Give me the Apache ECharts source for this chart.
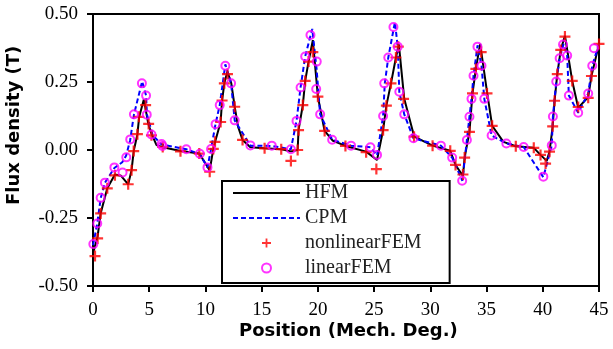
<!DOCTYPE html>
<html>
<head>
<meta charset="utf-8">
<script src="https://cdn.jsdelivr.net/npm/echarts@6/dist/echarts.min.js"></script>
<style>
html,body{margin:0;padding:0;background:#fff;}
#chart{width:613px;height:349px;}
</style>
</head>
<body>
<div id="chart"></div>
<script>
// ---- Data ----
const seriesNames = ['HFM', 'CPM', 'nonlinearFEM', 'linearFEM'];

const hfmX = [0, 0.4, 0.68, 1.27, 1.95, 2.5, 3.13, 3.43, 3.62, 3.95, 4.1, 4.52, 4.91, 5.2, 5.65, 6.2, 7.8, 9.45, 10.38, 10.7, 10.88, 11.35, 11.48, 11.68, 11.95, 12.3, 12.6, 12.9, 13.3, 14.0, 15.26, 16.74, 17.6, 18.2, 18.28, 18.66, 18.87, 19.17, 19.55, 20.0, 20.6, 21.3, 22.45, 24.29, 25.26, 25.8, 26.09, 26.5, 26.94, 27.2, 27.68, 28.57, 30.2, 31.77, 32.24, 32.9, 33.05, 33.48, 33.75, 34.05, 34.43, 35.06, 35.5, 36.5, 37.6, 39.2, 39.8, 40.35, 40.6, 40.88, 41.05, 41.29, 41.6, 41.97, 42.62, 43.15, 44.04, 44.33, 45];
const hfmY = [-0.38, -0.32, -0.233, -0.141, -0.09, -0.095, -0.126, -0.074, -0.004, 0.058, 0.12, 0.186, 0.098, 0.06, 0.018, 0.01, -0.004, -0.013, -0.075, 0.004, 0.033, 0.103, 0.182, 0.245, 0.288, 0.245, 0.159, 0.086, 0.037, 0.01, 0.006, 0.003, -0.005, 0.0, 0.073, 0.165, 0.254, 0.325, 0.404, 0.196, 0.07, 0.035, 0.015, -0.006, -0.037, 0.073, 0.163, 0.245, 0.34, 0.388, 0.188, 0.049, 0.016, -0.003, -0.055, -0.095, -0.028, 0.067, 0.208, 0.298, 0.39, 0.208, 0.089, 0.03, 0.014, 0.008, -0.018, -0.04, -0.006, 0.087, 0.181, 0.279, 0.368, 0.42, 0.254, 0.155, 0.195, 0.272, 0.39];

const cpmX = [0, 0.38, 0.68, 1.06, 1.9, 2.6, 2.95, 3.3, 3.64, 4.37, 4.72, 4.8, 5.3, 6.1, 8.3, 9.5, 10.18, 10.5, 10.9, 11.27, 11.77, 12.28, 12.6, 14.0, 15.9, 17.6, 18.1, 18.46, 18.87, 19.5, 19.88, 20.2, 21.27, 22.95, 24.67, 25.26, 25.8, 25.95, 26.26, 26.85, 27.1, 27.24, 27.68, 28.5, 30.94, 31.94, 32.85, 33.25, 33.48, 33.66, 33.84, 34.2, 34.55, 34.8, 35.45, 36.76, 38.3, 40.05, 40.8, 40.9, 41.2, 41.5, 41.85, 42.17, 42.32, 43.15, 44.04, 44.4, 45];
const cpmY = [-0.35, -0.27, -0.178, -0.12, -0.066, -0.045, -0.02, 0.035, 0.13, 0.252, 0.2, 0.13, 0.055, 0.02, 0.003, -0.015, -0.064, 0.004, 0.096, 0.165, 0.315, 0.245, 0.109, 0.016, 0.015, 0.003, 0.107, 0.23, 0.344, 0.445, 0.3, 0.131, 0.038, 0.016, 0.01, -0.02, 0.125, 0.245, 0.34, 0.47, 0.38, 0.214, 0.131, 0.043, 0.016, -0.028, -0.113, 0.037, 0.122, 0.188, 0.273, 0.385, 0.31, 0.188, 0.053, 0.024, 0.011, -0.1, 0.017, 0.123, 0.252, 0.337, 0.39, 0.347, 0.2, 0.137, 0.208, 0.31, 0.39];

const nonlinX = [0.18, 0.41, 0.68, 1.27, 1.95, 3.13, 3.43, 3.62, 3.95, 4.08, 4.68, 4.95, 5.2, 6.2, 7.78, 9.45, 10.38, 10.7, 10.85, 11.35, 11.48, 11.68, 11.96, 12.6, 13.3, 15.26, 16.74, 17.6, 18.2, 18.28, 18.66, 18.87, 19.17, 19.55, 20.0, 20.6, 22.45, 24.29, 25.2, 25.8, 26.09, 26.5, 26.94, 27.15, 27.62, 28.55, 30.2, 31.77, 32.24, 32.9, 33.05, 33.48, 33.75, 34.05, 34.52, 35.04, 35.5, 37.6, 39.2, 39.8, 40.25, 40.6, 40.88, 41.05, 41.29, 41.6, 41.97, 42.62, 43.15, 44.04, 44.33, 45.0];
const nonlinY = [-0.39, -0.325, -0.233, -0.141, -0.093, -0.126, -0.074, -0.004, 0.058, 0.122, 0.165, 0.096, 0.054, 0.011, -0.005, -0.013, -0.08, 0.004, 0.03, 0.103, 0.182, 0.245, 0.279, 0.159, 0.037, 0.006, 0.003, -0.04, 0.0, 0.073, 0.165, 0.254, 0.325, 0.36, 0.196, 0.07, 0.015, -0.008, -0.07, 0.073, 0.163, 0.245, 0.34, 0.38, 0.188, 0.049, 0.016, -0.003, -0.055, -0.09, -0.028, 0.067, 0.208, 0.298, 0.36, 0.208, 0.089, 0.014, 0.008, -0.018, -0.05, -0.006, 0.087, 0.181, 0.279, 0.368, 0.417, 0.254, 0.158, 0.192, 0.272, 0.39];

const linX = [0.03, 0.38, 0.68, 1.06, 1.9, 2.63, 2.96, 3.31, 3.64, 4.35, 4.72, 4.78, 5.2, 6.1, 6.18, 8.3, 9.5, 10.18, 10.5, 10.9, 11.27, 11.77, 12.28, 12.6, 14.0, 15.9, 17.6, 18.1, 18.46, 18.87, 19.34, 19.9, 19.85, 20.2, 21.27, 22.95, 24.67, 25.26, 25.8, 25.9, 26.26, 26.72, 27.1, 27.24, 27.68, 28.5, 30.94, 31.94, 32.83, 33.25, 33.48, 33.66, 33.84, 34.19, 34.55, 34.8, 35.45, 36.76, 38.3, 40.05, 40.8, 40.9, 41.2, 41.5, 41.8, 42.17, 42.32, 43.15, 44.04, 44.4, 44.55];
const linY = [-0.346, -0.27, -0.176, -0.12, -0.064, -0.083, -0.027, 0.039, 0.131, 0.245, 0.2, 0.13, 0.057, 0.022, 0.015, 0.003, -0.014, -0.064, 0.004, 0.095, 0.165, 0.31, 0.245, 0.109, 0.017, 0.016, 0.003, 0.107, 0.23, 0.344, 0.423, 0.325, 0.224, 0.131, 0.038, 0.016, 0.01, -0.018, 0.125, 0.245, 0.34, 0.452, 0.38, 0.214, 0.131, 0.043, 0.016, -0.028, -0.113, 0.037, 0.122, 0.188, 0.273, 0.38, 0.31, 0.188, 0.053, 0.024, 0.011, -0.098, 0.017, 0.123, 0.252, 0.337, 0.388, 0.347, 0.2, 0.137, 0.208, 0.31, 0.374];

const xTickValues = [0, 5, 10, 15, 20, 25, 30, 35, 40, 45];
const yTickLabels = ['-0.50', '-0.25', '0.00', '0.25', '0.50'];
const xTitle = 'Position (Mech. Deg.)';
const yTitle = 'Flux density (T)';

// ---- Build ----
function zip(xs, ys) { return xs.map((x, i) => [x, ys[i]]); }
const plusPath = 'path://M4,0L6,0L6,4L10,4L10,6L6,6L6,10L4,10L4,6L0,6L0,4L4,4Z';
const tickFont = 'Liberation Serif';

const chart = echarts.init(document.getElementById('chart'), null, {renderer: 'canvas'});
chart.setOption({
  animation: false,
  backgroundColor: '#fff',
  grid: {left: 93, right: 14, top: 14, bottom: 63, show: true, borderColor: '#000', borderWidth: 2, backgroundColor: 'transparent'},
  xAxis: {
    type: 'value', min: 0, max: 45, interval: 5,
    axisLine: {show: true, onZero: false, lineStyle: {color: '#000', width: 2}},
    axisTick: {show: true, inside: false, length: 6, lineStyle: {color: '#000', width: 2}},
    axisLabel: {color: '#000', fontFamily: tickFont, fontSize: 19, margin: 15,
      formatter: v => (xTickValues.indexOf(v) >= 0 ? String(v) : '')},
    splitLine: {show: false}
  },
  yAxis: {
    type: 'value', min: -0.5, max: 0.5, interval: 0.25,
    axisLine: {show: true, onZero: false, lineStyle: {color: '#000', width: 2}},
    axisTick: {show: true, inside: false, length: 6, lineStyle: {color: '#000', width: 2}},
    axisLabel: {color: '#000', fontFamily: tickFont, fontSize: 19, margin: 15,
      formatter: v => yTickLabels[Math.round((v + 0.5) / 0.25)]},
    splitLine: {show: false}
  },
  legend: {
    data: [
      {name: seriesNames[0], icon: 'path://M0,4L67,4L67,6L0,6Z', itemStyle: {color: '#000'}},
      {name: seriesNames[1], icon: 'path://M0,4L5,4L5,6L0,6Z M8,4L13,4L13,6L8,6Z M16,4L21,4L21,6L16,6Z M24,4L29,4L29,6L24,6Z M32,4L37,4L37,6L32,6Z M40,4L45,4L45,6L40,6Z M48,4L53,4L53,6L48,6Z M56,4L61,4L61,6L56,6Z M64,4L67,4L67,6L64,6Z', itemStyle: {color: '#0000ff'}},
      {name: seriesNames[2]},
      {name: seriesNames[3]}
    ],
    orient: 'vertical',
    left: 222, top: 181,
    itemWidth: 67, itemHeight: 9, itemGap: 5,
    padding: [2, 28, 5, 11],
    borderColor: '#000', borderWidth: 2, backgroundColor: '#fff',
    textStyle: {color: '#222', fontFamily: tickFont, fontSize: 20},
    selectedMode: false
  },
  graphic: [
    {type: 'text', left: 349 - 110, top: 322, style: {text: xTitle, font: 'bold 18px "DejaVu Sans"', fill: '#000'}},
    {type: 'text', x: 5, y: 205, rotation: Math.PI / 2, style: {text: yTitle, font: 'bold 18px "DejaVu Sans"', fill: '#000'}}
  ],
  series: [
    {name: 'HFM', type: 'line', data: zip(hfmX, hfmY), symbol: 'none', showSymbol: false,
      lineStyle: {color: '#000', width: 2}, itemStyle: {color: '#000'}, z: 2},
    {name: 'CPM', type: 'line', data: zip(cpmX, cpmY), symbol: 'none', showSymbol: false,
      lineStyle: {color: '#0000ff', width: 2, type: [5, 3]}, itemStyle: {color: '#0000ff'}, z: 3},
    {name: 'nonlinearFEM', type: 'scatter', data: zip(nonlinX, nonlinY), symbol: plusPath, symbolSize: 11,
      itemStyle: {color: '#ff0000'}, z: 4},
    {name: 'linearFEM', type: 'scatter', data: zip(linX, linY), symbol: 'circle', symbolSize: 8,
      itemStyle: {color: 'rgba(0,0,0,0)', borderColor: '#ff00ff', borderWidth: 2}, z: 5}
  ]
});
</script>
</body>
</html>
